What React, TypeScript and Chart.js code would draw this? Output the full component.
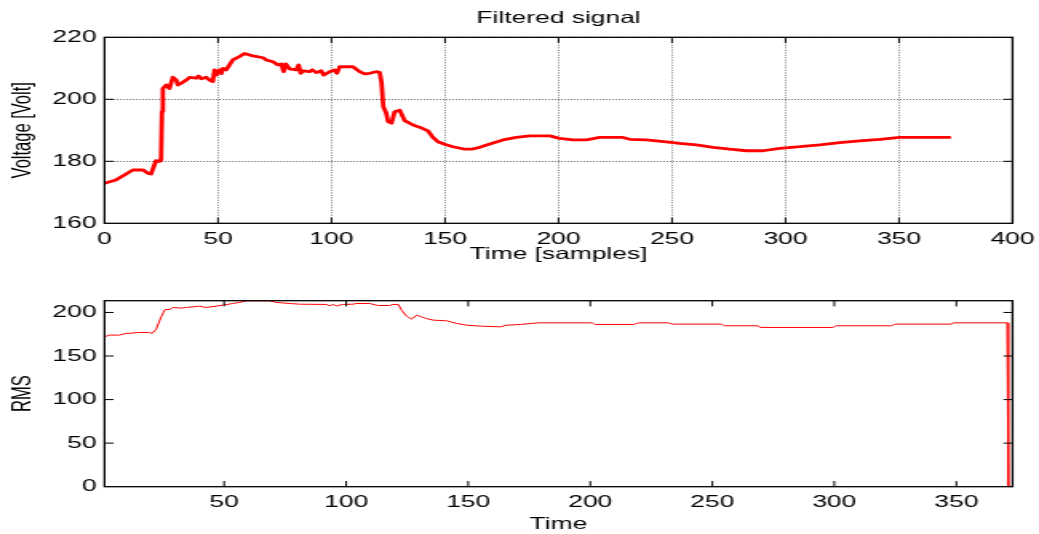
import React, { useEffect, useRef } from 'react';
import { Chart, registerables } from 'chart.js';

Chart.register(...registerables);

// ---------- data ----------
const topTime = [
  0, 5, 12.5, 17, 19.2, 20.5, 21.4, 22.7, 24.2, 24.9, 25.3, 25.7, 27.2, 28.6, 30.1, 31.6, 32.3, 33.8, 36, 37.5,
  40.4, 41.4, 42.6, 44.8, 46.3, 47.7, 48.5, 49.2, 50.7, 51.5, 52.2, 53.6, 56.5, 59.5, 61.7, 65.4, 69.8, 71.3,
  74.2, 76.4, 77.9, 78.9, 79.8, 81.5, 84.4, 85.5, 86.4, 87.4, 90.3, 91.5, 93.3, 95.5, 96.5, 99.2, 101.4, 102.4,
  103.6, 106.5, 109.4, 112.4, 114.6, 116.8, 119.7, 121.2, 122.0, 122.8, 124.1, 124.9, 126.4, 127.8, 130, 132.2,
  135.9, 138.8, 142.5, 144.7, 146.9, 149.8, 153.5, 158.7, 161.6, 165.3, 169.7, 175.5, 181.4, 187.3, 196.1,
  200.5, 206.4, 212.3, 218.2, 228.4, 231.4, 238.7, 247.5, 253.4, 260.7, 268.1, 275.4, 282.8, 290.1, 297.5,
  306.3, 315.1, 323.9, 332.7, 341.6, 350.4, 372.1,
];
const topVolt = [
  172.9, 174.0, 177.2, 177.2, 176.1, 175.9, 177.7, 180.2, 180.0, 180.4, 196, 203.5, 204.6, 203.5, 207.1, 206.2,
  204.6, 205.2, 206.2, 207.1, 206.8, 207.5, 206.6, 207.1, 206.2, 205.7, 209.5, 207.8, 209.5, 208.3, 210, 209.5,
  212.7, 213.8, 214.8, 214, 213.4, 212.7, 212.1, 211.1, 211.4, 208.9, 211.4, 209.8, 209.5, 211.1, 208.4, 209.2,
  208.9, 209.5, 208.6, 209.2, 207.8, 208.9, 209.5, 208.4, 210.5, 210.5, 210.5, 208.9, 208.2, 208.4, 208.9,
  208.7, 205.5, 197.6, 195.5, 192.8, 192.3, 196, 196.5, 193.1, 191.7, 191, 189.8, 187.7, 186.3, 185.5, 184.7,
  183.9, 183.9, 184.5, 185.6, 186.9, 187.7, 188.2, 188.2, 187.4, 186.9, 186.9, 187.7, 187.7, 187.1, 186.9,
  186.3, 185.8, 185.3, 184.5, 183.9, 183.4, 183.4, 184.2, 184.7, 185.3, 186, 186.6, 187.1, 187.7, 187.7,
];

const rmsTime = [
  1, 3, 7, 9.9, 15.3, 19.4, 20.5, 22.1, 24.2, 25.8, 27.6, 29, 32.4, 34.5, 39.9, 42.6, 46.7, 49.5, 53.6, 56.3,
  59.1, 68.6, 71.4, 76.8, 80.9, 91.9, 93.2, 94.6, 96, 98.7, 102.8, 104.2, 109.6, 113, 117.8, 119.2, 121.3,
  122.7, 124.7, 126.8, 128.8, 130.9, 132.9, 135.7, 141.2, 145.3, 149.4, 154.9, 163.1, 165.8, 171.3, 178.8,
  200.7, 202, 217.8, 219.8, 232.1, 233.5, 253.9, 254.9, 268.8, 269.6, 299.6, 300.6, 323.5, 324.8, 348, 348.7,
  370.8, 371.3,
];
const rmsValue = [
  172, 174, 174, 175.9, 177, 177, 175.9, 180.5, 195, 203.4, 203.4, 205.7, 205, 205.7, 207.2, 205.7, 207.2,
  208.4, 210.3, 211.5, 213.3, 213.3, 211.5, 210.3, 209.5, 209.2, 207.6, 209.2, 207.6, 209.2, 209.5, 210.3,
  210.3, 208, 208, 209.2, 209.2, 202.6, 195.8, 192.3, 196.9, 195, 193, 191.2, 190.4, 187.4, 185.4, 184.3,
  183.5, 185.4, 186.2, 188.1, 188.1, 186.2, 186.2, 188.1, 188.1, 186.6, 186.6, 184.7, 184.7, 182.8, 182.8,
  184.7, 184.7, 186.6, 186.6, 188.1, 188.1, 0,
];

const topXTicks = { min: 0, max: 400, step: 50 };
const topYTicks = { min: 160, max: 220, step: 20 };
const rmsXTicks = { min: 1, max: 373, step: 50 };
const rmsYTicks = { min: 0, max: 213.5, step: 50 };

// ---------- layout (canvas drawn at reduced width, stretched by CSS) ----------
const FULL_W = 1039;
const W = 650;
const S = FULL_W / W;
const PLOT_LEFT = 104.5 / S;
const PLOT_RIGHT_PAD = W - 1012.5 / S;
const TICK_LEN = 5.7;

const FONT = { family: "'Liberation Sans', Arial, Helvetica, sans-serif", size: 16.5, lineHeight: 1, weight: 'normal' as const };

const boxPlugin = {
  id: 'matlabBox',
  afterDraw(chart: any) {
    const { ctx, chartArea: a, scales } = chart;
    const xs = scales.x;
    const ys = scales.y;
    ctx.save();
    ctx.strokeStyle = '#000';
    ctx.lineWidth = 1;
    ctx.setLineDash([]);
    ctx.beginPath();
    xs.ticks.forEach((t: any) => {
      const p = xs.getPixelForValue(t.value);
      if (p <= a.left + 0.5 || p >= a.right - 0.5) return;
      ctx.moveTo(p, a.bottom);
      ctx.lineTo(p, a.bottom - TICK_LEN);
      ctx.moveTo(p, a.top);
      ctx.lineTo(p, a.top + TICK_LEN);
    });
    ys.ticks.forEach((t: any) => {
      const p = ys.getPixelForValue(t.value);
      if (p <= a.top + 0.5 || p >= a.bottom - 0.5) return;
      ctx.moveTo(a.left, p);
      ctx.lineTo(a.left + TICK_LEN, p);
      ctx.moveTo(a.right, p);
      ctx.lineTo(a.right - TICK_LEN, p);
    });
    ctx.stroke();
    ctx.lineWidth = 1.3;
    ctx.strokeRect(a.left, a.top, a.right - a.left, a.bottom - a.top);
    ctx.restore();
  },
};

const fitX = (h: number) => (s: any) => {
  s.height = h;
  s.paddingLeft = 0;
  s.paddingRight = 0;
};
const fitY = (s: any) => {
  s.width = PLOT_LEFT;
  s.paddingTop = 0;
  s.paddingBottom = 0;
};

function topConfig(): any {
  return {
    type: 'line',
    data: {
      datasets: [
        {
          data: topTime.map((t, i) => ({ x: t, y: topVolt[i] })),
          borderColor: '#ff0000',
          borderWidth: 2.8,
          pointRadius: 0,
          tension: 0,
          fill: false,
          borderJoinStyle: 'round',
          borderCapStyle: 'round',
        },
      ],
    },
    options: {
      responsive: false,
      animation: false,
      devicePixelRatio: 1,
      layout: { padding: { left: 0, right: PLOT_RIGHT_PAD, top: 0, bottom: 0 } },
      plugins: {
        legend: { display: false },
        tooltip: { enabled: false },
        title: {
          display: true,
          text: 'Filtered signal',
          fullSize: false,
          color: '#000',
          font: FONT,
          padding: { top: 10.1, bottom: 10.7 },
        },
      },
      scales: {
        x: {
          type: 'linear',
          min: topXTicks.min,
          max: topXTicks.max,
          ticks: { stepSize: topXTicks.step, color: '#000', font: FONT, padding: 7.5, maxRotation: 0, autoSkip: false, includeBounds: false },
          grid: { color: 'rgba(0,0,0,0.55)', drawTicks: false, lineWidth: 1 },
          border: { display: false, dash: [1, 1.5] },
          title: { display: true, text: 'Time [samples]', color: '#000', font: FONT, padding: { top: 0, bottom: 17.5 } },
          afterFit: fitX(56.7),
        },
        y: {
          type: 'linear',
          min: topYTicks.min,
          max: topYTicks.max,
          ticks: { stepSize: topYTicks.step, color: '#000', font: FONT, padding: 5, includeBounds: false },
          grid: { color: 'rgba(0,0,0,0.55)', drawTicks: false, lineWidth: 1 },
          border: { display: false, dash: [1, 1] },
          title: { display: true, text: 'Voltage [Volt]', color: '#000', font: FONT, padding: { top: 5.85, bottom: 0 } },
          afterFit: fitY,
        },
      },
    },
    plugins: [boxPlugin],
  };
}

function rmsConfig(): any {
  return {
    type: 'line',
    data: {
      datasets: [
        {
          data: rmsTime.map((t, i) => ({ x: t, y: rmsValue[i] })),
          borderColor: '#ff0000',
          borderWidth: 1,
          pointRadius: 0,
          tension: 0,
          fill: false,
        },
      ],
    },
    options: {
      responsive: false,
      animation: false,
      devicePixelRatio: 1,
      layout: { padding: { left: 0, right: PLOT_RIGHT_PAD, top: 20.7, bottom: 0 } },
      plugins: {
        legend: { display: false },
        tooltip: { enabled: false },
        title: { display: false },
      },
      scales: {
        x: {
          type: 'linear',
          min: rmsXTicks.min,
          max: rmsXTicks.max,
          ticks: { stepSize: rmsXTicks.step, color: '#000', font: FONT, padding: 7.8, maxRotation: 0, autoSkip: false, includeBounds: false },
          grid: { display: false, drawTicks: false },
          border: { display: false },
          title: { display: true, text: 'Time', color: '#000', font: FONT, padding: { top: 0, bottom: 1.25 } },
          afterFit: fitX(47.3),
        },
        y: {
          type: 'linear',
          min: rmsYTicks.min,
          max: rmsYTicks.max,
          ticks: { stepSize: rmsYTicks.step, color: '#000', font: FONT, padding: 5, includeBounds: false },
          grid: { display: false, drawTicks: false },
          border: { display: false },
          title: { display: true, text: 'RMS', color: '#000', font: FONT, padding: { top: 5.85, bottom: 0 } },
          afterFit: fitY,
        },
      },
    },
    plugins: [boxPlugin],
  };
}

export default function App() {
  const topRef = useRef<HTMLCanvasElement>(null);
  const rmsRef = useRef<HTMLCanvasElement>(null);

  useEffect(() => {
    const c1 = new Chart(topRef.current as HTMLCanvasElement, topConfig());
    const c2 = new Chart(rmsRef.current as HTMLCanvasElement, rmsConfig());
    return () => {
      c1.destroy();
      c2.destroy();
    };
  }, []);

  return (
    <div style={{ position: 'absolute', left: 0, top: 0, width: FULL_W, height: 534, background: '#fff' }}>
      <canvas
        ref={topRef}
        width={W}
        height={280}
        style={{ position: 'absolute', left: 0, top: 0, width: FULL_W + 'px', height: '280px' }}
      />
      <canvas
        ref={rmsRef}
        width={W}
        height={254}
        style={{ position: 'absolute', left: 0, top: 280, width: FULL_W + 'px', height: '254px' }}
      />
    </div>
  );
}
